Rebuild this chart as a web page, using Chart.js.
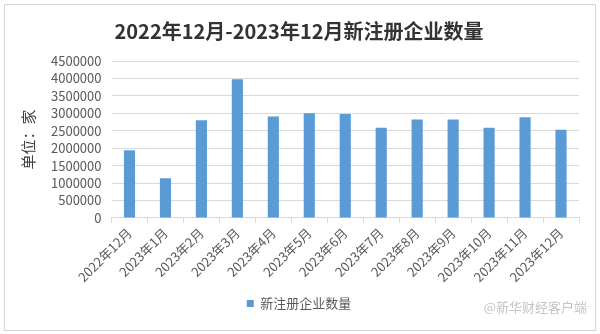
<!DOCTYPE html>
<html>
<head>
<meta charset="utf-8">
<script src="https://cdn.jsdelivr.net/npm/chart.js@4"></script>
<style>
  html, body { margin: 0; padding: 0; background: #fff; }
  #wrap { position: absolute; left: 4px; top: 4px; width: 590px; height: 325px; border: 1px solid #d4d4d4; }
  #mark { position: absolute; right: 8px; bottom: 14px; font: 13px "Noto Sans CJK SC", sans-serif; color: #c4c4c4; }
</style>
</head>
<body>
<div id="wrap">
  <canvas id="chart" width="590" height="325"></canvas>
  <div id="mark">@新华财经客户端</div>
</div>
<script>
const TITLE = "2022年12月-2023年12月新注册企业数量";
const SERIES_NAME = "新注册企业数量";
const Y_TITLE = "单位：家";
const MONTHS = [
  "2022年12月", "2023年1月", "2023年2月", "2023年3月", "2023年4月",
  "2023年5月", "2023年6月", "2023年7月", "2023年8月", "2023年9月",
  "2023年10月", "2023年11月", "2023年12月",
];
const COUNTS = [
  1940000, 1140000, 2800000, 3980000, 2910000,
  3000000, 2980000, 2590000, 2820000, 2820000,
  2590000, 2890000, 2530000,
];

const CJK = '"Noto Sans CJK SC", "Noto Sans", sans-serif';

function createChart(ctx) {
  const options = {
    responsive: false,
    animation: false,
    layout: { padding: { left: 14, right: 16, top: 0, bottom: 10 } },
    scales: {
      x: {
        grid: { display: true, drawOnChartArea: false, tickLength: 5, color: "#d9d9d9", offset: true },
        border: { color: "#d9d9d9" },
        ticks: {
          maxRotation: 45,
          minRotation: 45,
          color: "#595959",
          font: { family: CJK, size: 13 },
          padding: 2,
        },
      },
      y: {
        min: 0,
        max: 4500000,
        ticks: {
          stepSize: 500000,
          autoSkip: false,
          color: "#595959",
          font: { family: CJK, size: 13 },
          padding: 10,
          callback: (v) => String(v),
        },
        grid: { color: "#d9d9d9", drawTicks: false },
        border: { display: false },
        title: {
          display: true,
          text: Y_TITLE,
          color: "#404040",
          font: { family: CJK, size: 15 },
          padding: { top: 0, bottom: 4 },
        },
      },
    },
    plugins: {
      title: {
        display: true,
        text: TITLE,
        color: "#333333",
        font: { family: CJK, size: 20, weight: "bold" },
        padding: { top: 14, bottom: 18 },
      },
      legend: {
        display: true,
        position: "bottom",
        labels: {
          boxWidth: 7,
          boxHeight: 7,
          color: "#595959",
          font: { family: CJK, size: 13 },
          padding: 10,
        },
      },
      tooltip: { enabled: false },
    },
  };

  return new Chart(ctx, {
    type: "bar",
    data: {
      labels: MONTHS,
      datasets: [{
        label: SERIES_NAME,
        data: COUNTS,
        backgroundColor: "#5b9bd5",
        borderWidth: 0,
        categoryPercentage: 1,
        barPercentage: 0.31,
      }],
    },
    options: options,
  });
}

createChart(document.getElementById("chart").getContext("2d"));
</script>
</body>
</html>
